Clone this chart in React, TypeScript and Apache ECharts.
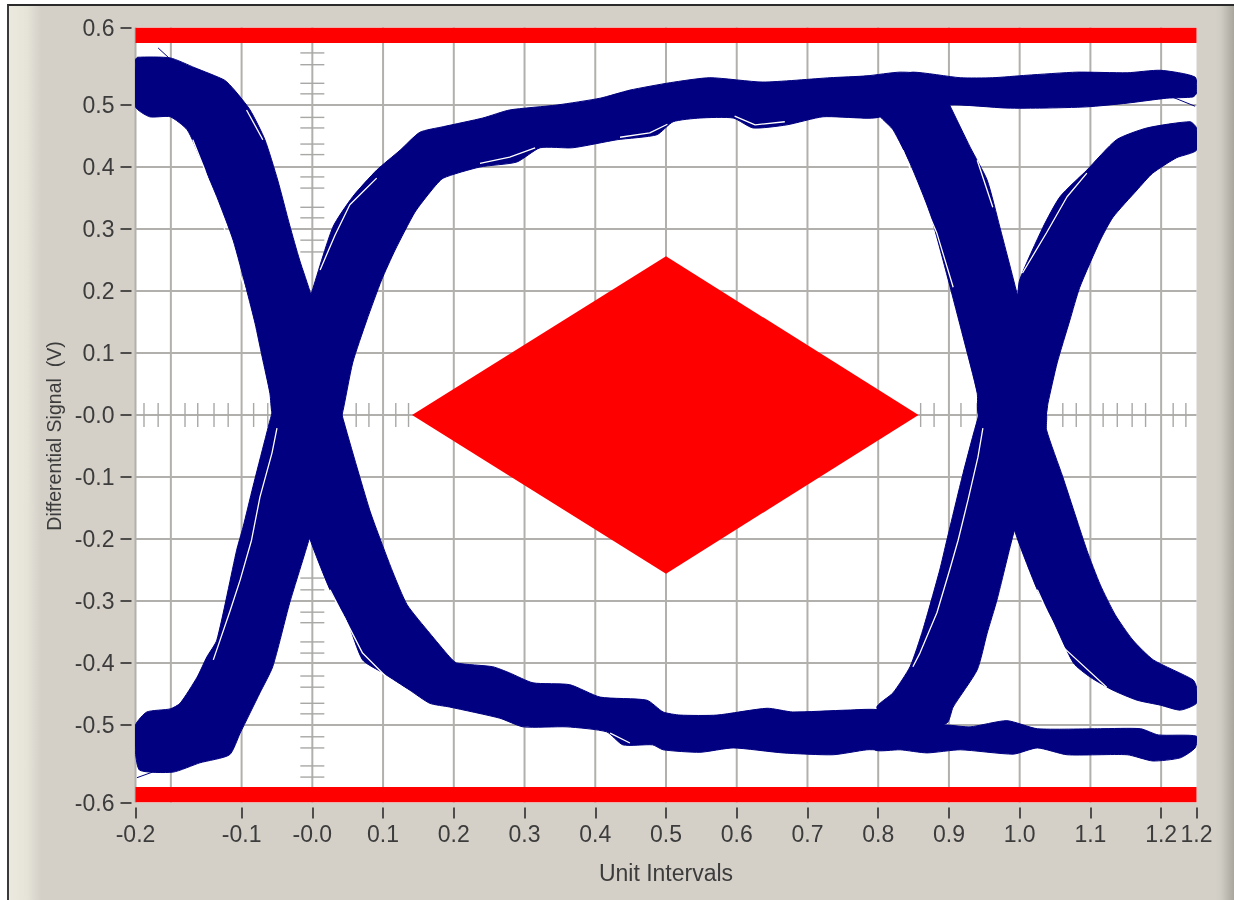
import React, { useEffect, useRef } from "react";
import * as echarts from "echarts";

type Pt = [number, number];

const xTickValues = [-0.25, -0.1, 0, 0.1, 0.2, 0.3, 0.4, 0.5, 0.6, 0.7, 0.8, 0.9, 1.0, 1.1, 1.2, 1.25];
const xTickLabels = ["-0.2", "-0.1", "-0.0", "0.1", "0.2", "0.3", "0.4", "0.5", "0.6", "0.7", "0.8", "0.9", "1.0", "1.1", "1.2", "1.2"];
const yTickValues = [-0.625, -0.5, -0.4, -0.3, -0.2, -0.1, 0, 0.1, 0.2, 0.3, 0.4, 0.5, 0.625];
const yTickLabels = ["-0.6", "-0.5", "-0.4", "-0.3", "-0.2", "-0.1", "-0.0", "0.1", "0.2", "0.3", "0.4", "0.5", "0.6"];

const gridX = [-0.25, -0.2, -0.1, 0, 0.1, 0.2, 0.3, 0.4, 0.5, 0.6, 0.7, 0.8, 0.9, 1.0, 1.1, 1.2];
const gridY = [-0.5, -0.4, -0.3, -0.2, -0.1, 0, 0.1, 0.2, 0.3, 0.4, 0.5];

const cursorTicksOnX = [-0.238, -0.218, -0.18, -0.162, -0.139, -0.119, -0.083, -0.063, 0.062, 0.08, 0.118, 0.136, 0.86, 0.879, 0.917, 0.94, 1.061, 1.08, 1.118, 1.138, 1.159, 1.178, 1.217, 1.235];
const cursorTicksOnY = [0.584, 0.565, 0.535, 0.518, 0.48, 0.463, 0.437, 0.42, 0.384, 0.366, 0.335, 0.318, 0.282, 0.263, -0.263, -0.282, -0.318, -0.335, -0.366, -0.384, -0.421, -0.439, -0.465, -0.482, -0.519, -0.537, -0.566, -0.584];

const maskTop: Pt[] = [[-0.25, 0.6], [1.25, 0.6], [1.25, 0.625], [-0.25, 0.625]];
const maskBottom: Pt[] = [[-0.25, -0.6], [1.25, -0.6], [1.25, -0.625], [-0.25, -0.625]];
const maskDiamond: Pt[] = [[0.141, 0], [0.5, 0.256], [0.857, 0], [0.5, -0.256]];

const fallFirst: Pt[] = [[-0.25, 0.573], [-0.247, 0.577], [-0.201, 0.576], [-0.166, 0.56], [-0.124, 0.54], [-0.11, 0.524], [-0.088, 0.492], [-0.067, 0.444], [-0.049, 0.379], [-0.032, 0.306], [-0.018, 0.25], [-0.002, 0.194], [0.042, 0], [0.063, -0.084], [0.081, -0.153], [0.091, -0.185], [0.114, -0.254], [0.134, -0.306], [0.166, -0.352], [0.194, -0.39], [0.204, -0.4], [0.255, -0.406], [0.279, -0.416], [0.312, -0.432], [0.364, -0.435], [0.407, -0.455], [0.473, -0.46], [0.496, -0.479], [0.52, -0.484], [0.572, -0.484], [0.643, -0.473], [0.679, -0.479], [0.756, -0.476], [0.803, -0.476], [0.83, -0.5], [0.821, -0.538], [0.784, -0.54], [0.736, -0.548], [0.665, -0.545], [0.595, -0.537], [0.548, -0.544], [0.496, -0.54], [0.481, -0.532], [0.439, -0.532], [0.416, -0.511], [0.36, -0.503], [0.298, -0.503], [0.265, -0.489], [0.194, -0.471], [0.166, -0.465], [0.138, -0.444], [0.1, -0.416], [0.071, -0.395], [0.049, -0.331], [0.025, -0.282], [-0.004, -0.198], [-0.057, 0.003], [-0.06, 0.035], [-0.071, 0.094], [-0.081, 0.148], [-0.093, 0.202], [-0.112, 0.282], [-0.135, 0.352], [-0.159, 0.416], [-0.177, 0.46], [-0.201, 0.481], [-0.23, 0.481], [-0.25, 0.497]];

const riseFirst: Pt[] = [[-0.25, -0.5], [-0.234, -0.479], [-0.201, -0.474], [-0.187, -0.465], [-0.163, -0.423], [-0.149, -0.39], [-0.135, -0.363], [-0.107, -0.218], [-0.098, -0.181], [-0.084, -0.116], [-0.067, -0.04], [-0.057, 0.003], [-0.002, 0.194], [0.029, 0.303], [0.057, 0.352], [0.091, 0.395], [0.124, 0.427], [0.152, 0.456], [0.185, 0.465], [0.241, 0.479], [0.279, 0.492], [0.346, 0.5], [0.407, 0.511], [0.449, 0.524], [0.506, 0.536], [0.562, 0.544], [0.637, 0.537], [0.732, 0.544], [0.784, 0.547], [0.831, 0.553], [0.866, 0.548], [0.802, 0.481], [0.778, 0.479], [0.722, 0.481], [0.671, 0.468], [0.623, 0.463], [0.595, 0.479], [0.548, 0.479], [0.51, 0.473], [0.487, 0.452], [0.431, 0.444], [0.368, 0.431], [0.322, 0.431], [0.289, 0.408], [0.237, 0.4], [0.185, 0.382], [0.169, 0.363], [0.145, 0.327], [0.117, 0.266], [0.098, 0.218], [0.077, 0.153], [0.057, 0.084], [0.042, 0], [-0.004, -0.198], [-0.032, -0.303], [-0.056, -0.406], [-0.074, -0.448], [-0.102, -0.513], [-0.117, -0.548], [-0.159, -0.561], [-0.197, -0.576], [-0.244, -0.573], [-0.25, -0.545]];

const fallSecond: Pt[] = [[0.788, 0.508], [0.894, 0.516], [0.901, 0.5], [0.93, 0.432], [0.954, 0.379], [0.972, 0.303], [0.996, 0.197], [1.038, 0], [1.038, -0.024], [1.061, -0.1], [1.095, -0.218], [1.114, -0.274], [1.135, -0.322], [1.16, -0.363], [1.189, -0.395], [1.245, -0.427], [1.25, -0.439], [1.25, -0.465], [1.227, -0.476], [1.199, -0.468], [1.166, -0.46], [1.132, -0.444], [1.1, -0.423], [1.076, -0.4], [1.047, -0.331], [1.025, -0.282], [0.996, -0.197], [0.941, 0.003], [0.94, 0.035], [0.92, 0.126], [0.899, 0.218], [0.873, 0.326], [0.845, 0.406], [0.821, 0.46], [0.803, 0.481]];

const riseSecond: Pt[] = [[0.798, -0.472], [0.821, -0.448], [0.845, -0.406], [0.863, -0.347], [0.887, -0.25], [0.897, -0.202], [0.92, -0.094], [0.941, -0.005], [0.996, 0.185], [1.0, 0.218], [1.033, 0.303], [1.057, 0.352], [1.095, 0.395], [1.137, 0.444], [1.18, 0.463], [1.241, 0.473], [1.25, 0.463], [1.25, 0.427], [1.222, 0.415], [1.188, 0.39], [1.166, 0.363], [1.132, 0.319], [1.114, 0.282], [1.085, 0.206], [1.071, 0.153], [1.053, 0.084], [1.04, 0.019], [1.038, 0.003], [0.99, -0.197], [0.968, -0.298], [0.954, -0.352], [0.94, -0.411], [0.906, -0.471], [0.897, -0.497], [0.83, -0.515]];

const topRail: Pt[] = [[0.774, 0.544], [0.821, 0.544], [0.849, 0.553], [0.916, 0.544], [0.962, 0.544], [1.01, 0.548], [1.081, 0.553], [1.152, 0.552], [1.199, 0.556], [1.248, 0.545], [1.25, 0.519], [1.245, 0.513], [1.208, 0.511], [1.152, 0.503], [1.095, 0.497], [1.033, 0.495], [0.982, 0.495], [0.901, 0.5], [0.803, 0.481], [0.774, 0.481]];

const bottomRail: Pt[] = [[0.8, -0.5], [0.897, -0.5], [0.93, -0.503], [0.982, -0.493], [1.025, -0.506], [1.114, -0.506], [1.171, -0.506], [1.196, -0.516], [1.25, -0.518], [1.248, -0.537], [1.227, -0.553], [1.188, -0.558], [1.152, -0.548], [1.067, -0.548], [1.025, -0.537], [0.991, -0.547], [0.916, -0.54], [0.869, -0.545], [0.831, -0.54], [0.795, -0.54]];

const whiteGaps: Pt[][] = [
  [[-0.05, -0.021], [-0.057, -0.061], [-0.074, -0.132], [-0.086, -0.202], [-0.102, -0.266], [-0.116, -0.315], [-0.14, -0.395]],
  [[0.948, -0.021], [0.941, -0.068], [0.927, -0.137], [0.913, -0.202], [0.901, -0.25], [0.883, -0.319], [0.859, -0.384], [0.849, -0.406]],
  [[0.011, 0.234], [0.032, 0.29], [0.053, 0.339], [0.074, 0.363], [0.091, 0.382]],
  [[1.004, 0.229], [1.038, 0.294], [1.067, 0.352], [1.095, 0.39]],
  [[-0.169, 0.444], [-0.152, 0.395], [-0.131, 0.323], [-0.114, 0.266], [-0.095, 0.202]],
  [[-0.093, 0.492], [-0.07, 0.444]],
  [[0.835, 0.427], [0.855, 0.368], [0.883, 0.293], [0.906, 0.206]],
  [[0.94, 0.411], [0.962, 0.335]],
  [[0.025, -0.282], [0.071, -0.384], [0.105, -0.423], [0.134, -0.444]],
  [[1.025, -0.282], [1.061, -0.374], [1.123, -0.439]],
  [[0.237, 0.406], [0.279, 0.416], [0.315, 0.431]],
  [[0.435, 0.448], [0.477, 0.455], [0.502, 0.469]],
  [[0.597, 0.482], [0.626, 0.468], [0.668, 0.473]],
  [[0.421, -0.513], [0.449, -0.529]],
];

const strayTraces: Pt[][] = [
  [[-0.218, 0.592], [-0.199, 0.572]],
  [[-0.248, -0.585], [-0.226, -0.576]],
  [[1.209, 0.516], [1.248, 0.498]],
];

const NAVY = "#000080";
const RED = "#ff0000";
const GRID = "#b2b0ac";

const nearestLabel = (values: number[], labels: string[], v: number) => {
  let best = 0;
  values.forEach((c, i) => {
    if (Math.abs(c - v) < Math.abs(values[best] - v)) best = i;
  });
  return labels[best];
};

const polygonSeries = (points: Pt[], fill: string, z: number, smooth = 0) => ({
  type: "custom",
  coordinateSystem: "cartesian2d",
  silent: true,
  z,
  clip: true,
  data: points,
  encode: { x: 0, y: 1 },
  renderItem: (params: any, api: any) => {
    if (params.dataIndex !== 0) return null;
    return {
      type: "polygon",
      shape: { points: points.map((p) => api.coord(p)), smooth },
      style: { fill, stroke: smooth ? fill : undefined, lineWidth: smooth ? 1 : 0 },
    };
  },
});

const verticalLines = (values: number[], color: string, width: number, z: number) => ({
  type: "custom",
  coordinateSystem: "cartesian2d",
  silent: true,
  z,
  clip: false,
  data: values.map((v) => [v, 0]),
  encode: { x: 0, y: 1 },
  renderItem: (params: any, api: any) => {
    const [x] = api.coord([api.value(0), 0]);
    const c = params.coordSys;
    return { type: "line", shape: { x1: x, y1: c.y, x2: x, y2: c.y + c.height }, style: { stroke: color, lineWidth: width } };
  },
});

const horizontalLines = (values: number[], color: string, width: number, z: number) => ({
  type: "custom",
  coordinateSystem: "cartesian2d",
  silent: true,
  z,
  clip: false,
  data: values.map((v) => [0, v]),
  encode: { x: 0, y: 1 },
  renderItem: (params: any, api: any) => {
    const [, y] = api.coord([0, api.value(1)]);
    const c = params.coordSys;
    return { type: "line", shape: { x1: c.x, y1: y, x2: c.x + c.width, y2: y }, style: { stroke: color, lineWidth: width } };
  },
});

const cursorTicks = (data: Pt[], vertical: boolean) => ({
  type: "custom",
  coordinateSystem: "cartesian2d",
  silent: true,
  z: 2,
  clip: false,
  data,
  encode: { x: 0, y: 1 },
  renderItem: (_: any, api: any) => {
    const [x, y] = api.coord([api.value(0), api.value(1)]);
    const shape = vertical
      ? { x1: x, y1: y - 12, x2: x, y2: y + 12 }
      : { x1: x - 12, y1: y, x2: x + 12, y2: y };
    return { type: "line", shape, style: { stroke: "#a8a8a6", lineWidth: 1.4 } };
  },
});

const traceSeries = (points: Pt[], color: string, width: number, z: number) => ({
  type: "line",
  silent: true,
  z,
  data: points,
  showSymbol: false,
  symbol: "none",
  lineStyle: { color, width },
});

export default function App() {
  const ref = useRef<HTMLDivElement>(null);

  useEffect(() => {
    const chart = echarts.init(ref.current!, undefined, { renderer: "svg" });
    const font = { fontFamily: "Liberation Sans", color: "#3c3c3c" };
    chart.setOption({
      animation: false,
      backgroundColor: "transparent",
      grid: {
        show: true,
        left: 135.5,
        top: 27.5,
        width: 1061,
        height: 775,
        backgroundColor: "#ffffff",
        borderWidth: 0,
      },
      xAxis: {
        type: "value",
        min: -0.25,
        max: 1.25,
        offset: 5,
        name: "Unit Intervals",
        nameLocation: "middle",
        nameGap: 54,
        nameTextStyle: { ...font, fontSize: 23 },
        axisLine: { show: false, onZero: false },
        splitLine: { show: false },
        axisTick: { show: true, length: 11, customValues: xTickValues, lineStyle: { color: "#222", width: 1.5 } },
        axisLabel: {
          ...font,
          fontSize: 23,
          margin: 15,
          customValues: xTickValues,
          formatter: (v: number) => nearestLabel(xTickValues, xTickLabels, v),
        },
      },
      yAxis: {
        type: "value",
        min: -0.625,
        max: 0.625,
        offset: 4,
        name: "Differential Signal  (V)",
        nameLocation: "middle",
        nameGap: 68,
        nameTextStyle: { ...font, fontSize: 19.5, padding: [0, 42, 0, 0] },
        axisLine: { show: false, onZero: false },
        splitLine: { show: false },
        axisTick: { show: true, length: 11, customValues: yTickValues, lineStyle: { color: "#222", width: 1.5 } },
        axisLabel: {
          ...font,
          fontSize: 23,
          margin: 17,
          customValues: yTickValues,
          formatter: (v: number) => nearestLabel(yTickValues, yTickLabels, v),
        },
      },
      series: [
        verticalLines(gridX, GRID, 2, 1),
        horizontalLines(gridY, GRID, 2, 1),
        cursorTicks(cursorTicksOnX.map((v) => [v, 0] as Pt), true),
        cursorTicks(cursorTicksOnY.map((v) => [0, v] as Pt), false),
        polygonSeries(fallFirst, NAVY, 3, 0.2),
        polygonSeries(riseFirst, NAVY, 3, 0.2),
        polygonSeries(fallSecond, NAVY, 3, 0.2),
        polygonSeries(riseSecond, NAVY, 3, 0.2),
        polygonSeries(topRail, NAVY, 3, 0.2),
        polygonSeries(bottomRail, NAVY, 3, 0.2),
        ...strayTraces.map((t) => traceSeries(t, NAVY, 1, 3)),
        ...whiteGaps.map((t) => traceSeries(t, "#ffffff", 1.3, 4)),
        polygonSeries(maskTop, RED, 5),
        polygonSeries(maskBottom, RED, 5),
        polygonSeries(maskDiamond, RED, 5),
      ],
    });
    return () => chart.dispose();
  }, []);

  return (
    <div style={{ position: "absolute", left: 0, top: 0, width: 1234, height: 900, background: "#ffffff", overflow: "hidden" }}>
      <div
        style={{
          position: "absolute",
          left: 7,
          top: 4,
          right: 0,
          bottom: 0,
          borderLeft: "2px solid #3a3a3a",
          borderTop: "2px solid #2a2a2a",
          boxSizing: "border-box",
          background:
            "linear-gradient(90deg, #ece9df 0px, #e6e3d9 18px, #d4d0c8 32px, #d4d0c8 1206px, #cfccc4 1212px, #a9a69e 1225px)",
        }}
      />
      <div ref={ref} style={{ position: "absolute", left: 0, top: 0, width: 1234, height: 900, filter: "blur(0.4px)" }} />
    </div>
  );
}
